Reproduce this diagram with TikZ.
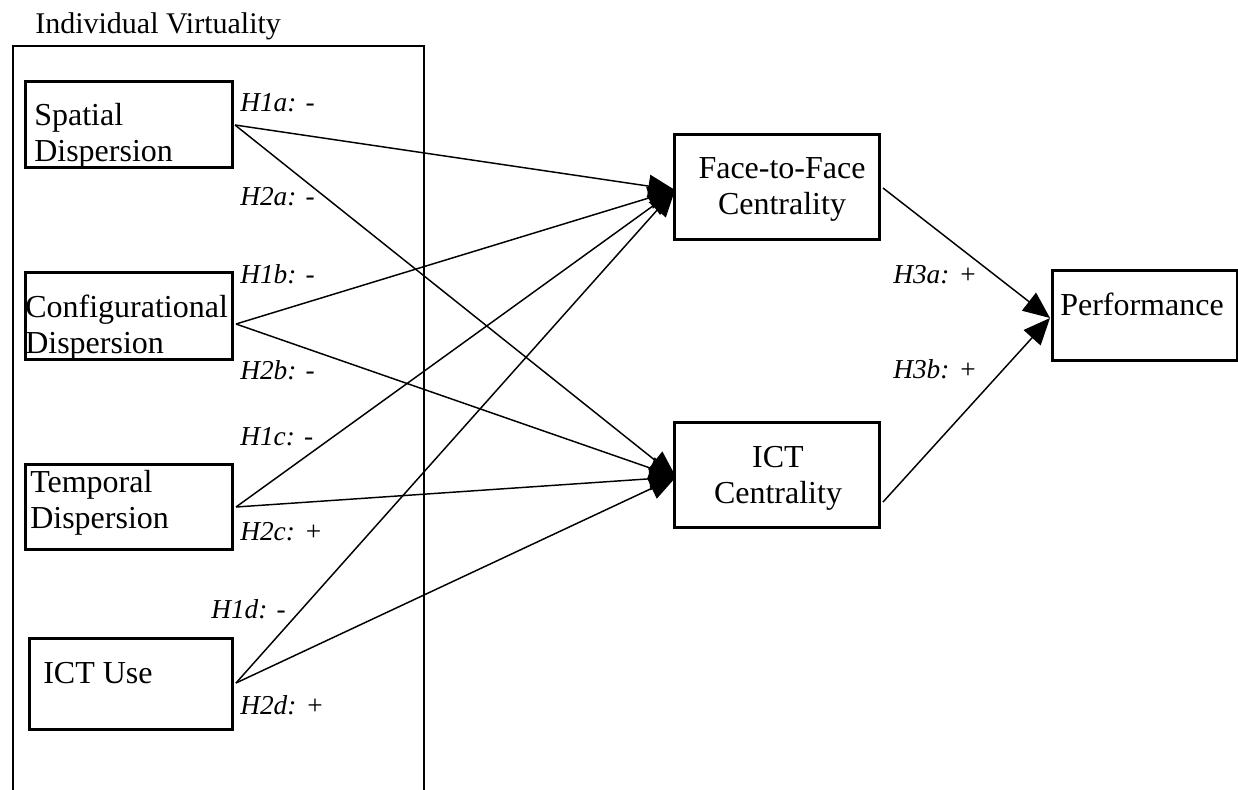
\documentclass[tikz,border=0pt]{standalone}
\usepackage{fontspec}
\setmainfont{Liberation Serif}
\usetikzlibrary{arrows.meta}
\newcommand\twolines[3]{\begin{tabular}[t]{@{}#1@{}}#2\\#3\end{tabular}}
\tikzset{
  boxshape/.style={draw, line width=1.9pt, rectangle, inner sep=0pt, anchor=north west},
  boxtext/.style={inner sep=0pt, font=\fontsize{24pt}{27pt}\selectfont},
  hlabel/.style={inner sep=0pt, anchor=base west, font=\fontsize{20.5pt}{23pt}\selectfont\itshape},
  link/.style={line width=1.1pt, -{Triangle[length=20pt,width=17pt]}},
}
\begin{document}
\begin{tikzpicture}[x=0.75pt,y=-0.75pt]
\useasboundingbox (0,0) rectangle (1238,789);
\fill[white] (0,0) rectangle (1238,789);

% outer frame (open at the bottom of the page)
\node[boxshape, line width=1.7pt, minimum width=411*0.75pt, minimum height=780*0.75pt] (iv) at (12,45) {};
\node[boxtext, anchor=base west, font=\fontsize{22.5pt}{26pt}\selectfont] (ivt) at (35,33) {Individual Virtuality};

% left boxes
\node[boxshape, minimum width=207*0.75pt, minimum height=86*0.75pt] (sd) at (24,80) {};
\node[boxtext, anchor=base west] (sdt) at (34,125) {\twolines{l}{Spatial}{Dispersion}};

\node[boxshape, minimum width=207*0.75pt, minimum height=87*0.75pt] (cd) at (24,271) {};
\node[boxtext, anchor=base west] (cdt) at (25,317) {\twolines{l}{Configurational}{Dispersion}};

\node[boxshape, minimum width=207*0.75pt, minimum height=85*0.75pt] (td) at (24,463) {};
\node[boxtext, anchor=base west] (tdt) at (30,492) {\twolines{l}{Temporal}{Dispersion}};

\node[boxshape, minimum width=203*0.75pt, minimum height=91*0.75pt] (iu) at (28,637) {};
\node[boxtext, anchor=base west] (iut) at (43,683) {ICT Use};

% middle boxes
\node[boxshape, minimum width=205*0.75pt, minimum height=105*0.75pt] (ff) at (673,133) {};
\node[boxtext, anchor=base] (fft) at (782,178) {\twolines{c}{Face-to-Face}{Centrality}};

\node[boxshape, minimum width=205*0.75pt, minimum height=105*0.75pt] (ic) at (673,421) {};
\node[boxtext, anchor=base] (ict) at (778,467) {\twolines{c}{ICT}{Centrality}};

% right box
\node[boxshape, minimum width=185*0.75pt, minimum height=90*0.75pt] (pf) at (1051,269) {};
\node[boxtext, anchor=base west] (pft) at (1060,315) {Performance};

% connector end points
\coordinate (sdo) at (235,125);
\coordinate (cdo) at (236,324);
\coordinate (tdo) at (236,507);
\coordinate (iuo) at (236,683);
\coordinate (ffi) at (675,190);
\coordinate (ici) at (676,477);
\coordinate (ffo) at (883,188);
\coordinate (ico) at (883,502);
\coordinate (pfi) at (1050,318);

\draw[link] (sdo) -- (ffi);
\draw[link] (sdo) -- (ici);
\draw[link] (cdo) -- (ffi);
\draw[link] (cdo) -- (ici);
\draw[link] (tdo) -- (ffi);
\draw[link] (tdo) -- (ici);
\draw[link] (iuo) -- (ffi);
\draw[link] (iuo) -- (ici);
\draw[link] (ffo) -- (pfi);
\draw[link] (ico) -- (pfi);

% hypothesis labels
\node[hlabel] (h1a) at (240,111) {H1a: -};
\node[hlabel] (h2a) at (240,205) {H2a: -};
\node[hlabel] (h1b) at (240,283) {H1b: -};
\node[hlabel] (h2b) at (240,379) {H2b: -};
\node[hlabel] (h1c) at (240,445) {H1c: -};
\node[hlabel] (h2c) at (240,540) {H2c: +};
\node[hlabel] (h1d) at (211,618) {H1d: -};
\node[hlabel] (h2d) at (240,714) {H2d: +};
\node[hlabel] (h3a) at (893,283) {H3a: +};
\node[hlabel] (h3b) at (893,378) {H3b: +};
\end{tikzpicture}
\end{document}
